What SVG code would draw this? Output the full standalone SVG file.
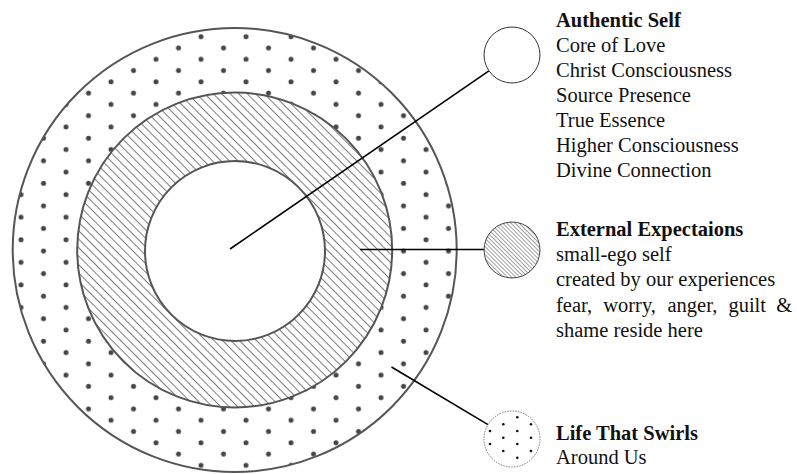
<svg xmlns="http://www.w3.org/2000/svg" width="797" height="474" viewBox="0 0 797 474">
<style>
.ring{stroke:#555;stroke-width:2}
.conn{stroke:#000;stroke-width:1.6;fill:none}
.t{font-family:"Liberation Serif","Times New Roman",serif;font-size:20.5px;fill:#111}
.b{font-weight:bold}
.ld{fill:#111}
</style>
<defs>
<pattern id="dots" patternUnits="userSpaceOnUse" x="9.75" y="8.45" width="45" height="22.56">
<circle cx="11.25" cy="5.64" r="2.5" fill="#444"/>
<circle cx="33.75" cy="16.92" r="2.5" fill="#444"/>
</pattern>
<pattern id="hatch" patternUnits="userSpaceOnUse" width="6" height="10" patternTransform="rotate(-45)">
<line x1="0" y1="-1" x2="0" y2="11" stroke="#444" stroke-width="1.4"/>
</pattern>
<pattern id="hatchS" patternUnits="userSpaceOnUse" width="2.9" height="10" patternTransform="rotate(-45)">
<line x1="0" y1="-1" x2="0" y2="11" stroke="#444" stroke-width="1"/>
</pattern>
</defs>
<rect width="797" height="474" fill="#fff"/>
<g id="life-ring">
<circle cx="234.7" cy="250" r="222" fill="url(#dots)" class="ring"/>
</g>
<g id="expectations-ring">
<circle cx="234.7" cy="250" r="157.5" fill="#fff"/>
<circle cx="234.7" cy="250" r="157.5" fill="url(#hatch)" class="ring" stroke-width="2.4"/>
</g>
<g id="authentic-core">
<circle cx="235" cy="251" r="90" fill="#fff" class="ring"/>
</g>
<g id="connectors">
<line class="conn" x1="230" y1="249" x2="488.9" y2="70.9"/>
<line class="conn" x1="360" y1="249.5" x2="484" y2="249.5"/>
<line class="conn" x1="391.5" y1="367" x2="488" y2="424.6"/>
</g>
<g id="legend-authentic">
<circle cx="512" cy="55" r="28" fill="#fff" stroke="#333" stroke-width="1"/>
<text class="t" x="556" y="26.5"><tspan class="b">Authentic Self</tspan><tspan x="556" dy="25">Core of Love</tspan><tspan x="556" dy="25">Christ Consciousness</tspan><tspan x="556" dy="25">Source Presence</tspan><tspan x="556" dy="25">True Essence</tspan><tspan x="556" dy="25">Higher Consciousness</tspan><tspan x="556" dy="25">Divine Connection</tspan></text>
</g>
<g id="legend-expectations">
<circle cx="512" cy="250" r="28" fill="url(#hatchS)" stroke="#444" stroke-width="1"/>
<text class="t" x="556" y="236"><tspan class="b">External Expectaions</tspan><tspan x="556" dy="25">small-ego self</tspan><tspan x="556" dy="25">created by our experiences</tspan></text>
<text class="t" y="311.5"><tspan x="556">fear,</tspan><tspan x="603.2">worry,</tspan><tspan x="667.5">anger,</tspan><tspan x="728.4">guilt</tspan><tspan x="776.2">&amp;</tspan></text>
<text class="t" x="556" y="336.5">shame reside here</text>
</g>
<g id="legend-life">
<circle cx="512" cy="439" r="28" fill="#fff" stroke="#555" stroke-width="0.8" stroke-dasharray="1.5 1.2"/>
<g class="ld">
<circle cx="517.3" cy="417.3" r="1.3"/><circle cx="503.3" cy="424.3" r="1.3"/><circle cx="531" cy="424.3" r="1.3"/>
<circle cx="490" cy="431" r="1.3"/><circle cx="517.3" cy="431" r="1.3"/><circle cx="503.3" cy="437.7" r="1.3"/>
<circle cx="531" cy="437.7" r="1.3"/><circle cx="490" cy="444" r="1.3"/><circle cx="517.3" cy="444" r="1.3"/>
<circle cx="503.3" cy="451" r="1.3"/><circle cx="531" cy="451" r="1.3"/><circle cx="517.3" cy="457.7" r="1.3"/>
</g>
<text class="t" x="556" y="440"><tspan class="b">Life That Swirls</tspan><tspan x="556" dy="24">Around Us</tspan></text>
</g>
</svg>
